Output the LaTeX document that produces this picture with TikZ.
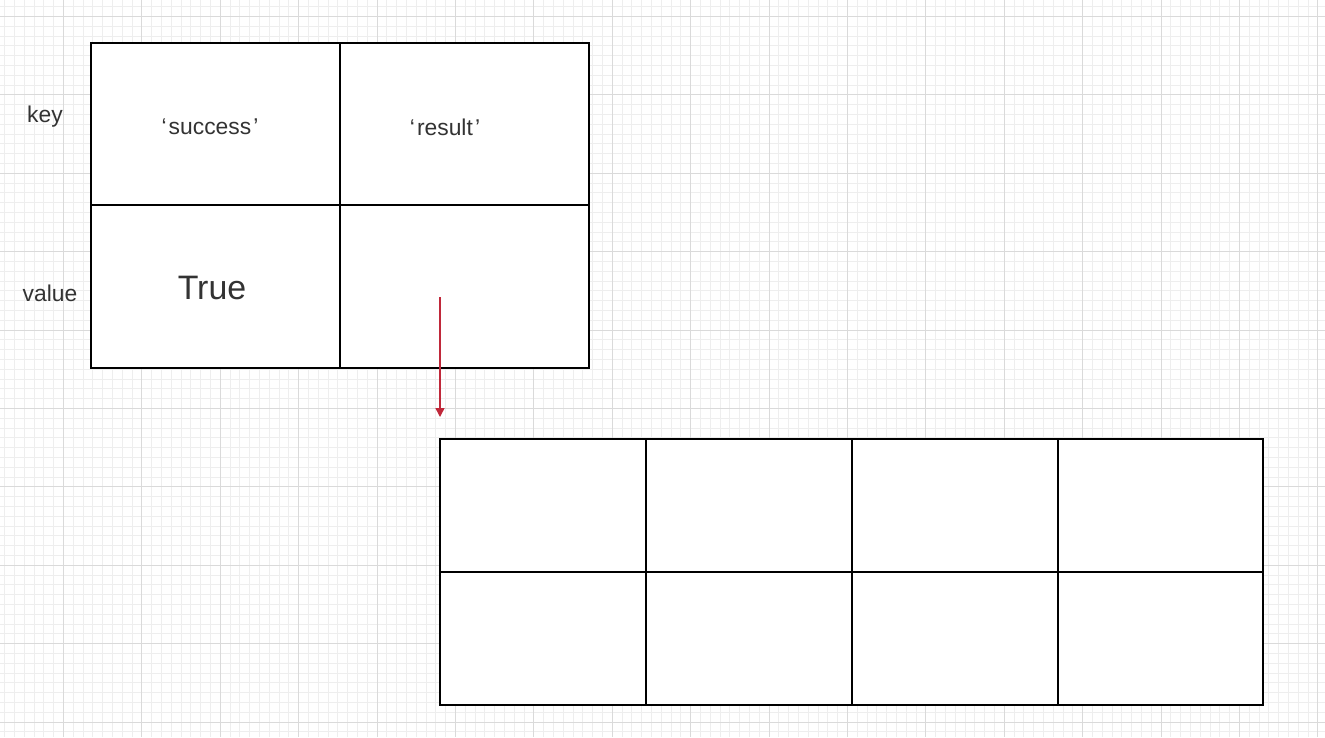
\documentclass[tikz,border=0pt]{standalone}
\usepackage{fontspec}
\setmainfont{Liberation Sans}
\usetikzlibrary{arrows.meta}

\definecolor{minorgrid}{HTML}{EEEEEE}
\definecolor{majorgrid}{HTML}{DADADA}
\definecolor{textgray}{HTML}{333333}
\definecolor{ptrred}{HTML}{C0283A}

\tikzset{
  minorline/.style={draw=minorgrid, line width=0.567pt},
  majorline/.style={draw=majorgrid, line width=0.567pt},
  cellline/.style={draw=black, line width=1.1pt, fill=white},
  keylabel/.style={text=textgray, font=\fontsize{13}{15}\selectfont, inner sep=0pt},
  bigval/.style={text=textgray, font=\fontsize{19.3}{22}\selectfont, inner sep=0pt},
  pointer/.style={draw=ptrred, line width=0.8pt, -{Triangle[length=5pt, width=5pt]}}
}

\begin{document}
\begin{tikzpicture}[x=0.02cm, y=-0.02cm]
    \useasboundingbox (0,0) rectangle (1325,737);
    \fill[white] (0,0) rectangle (1325,737);

    % Draw the background grid
    \foreach \i in {0,...,135} \draw[minorline] ({round(4.2+9.8*\i)+0.5},0) -- ++(0,737);
    \foreach \i in {0,...,74} \draw[minorline] (0,{round(6.2+9.8*\i)+0.5}) -- ++(1325,0);
    \foreach \i in {0,...,16} \draw[majorline] ({round(63+78.4*\i)+0.5},0) -- ++(0,737);
    \foreach \i in {0,...,9} \draw[majorline] (0,{round(16+78.4*\i)+0.5}) -- ++(1325,0);

    % Draw the dict table
    \draw[cellline] (91,43) rectangle (589,368);
    \draw[cellline] (340,43) -- (340,368);
    \draw[cellline] (91,205) -- (589,205);

    % Draw the list table
    \draw[cellline] (440,439) rectangle (1263,705);
    \foreach \x in {646,852,1058} \draw[cellline] (\x,439) -- (\x,705);
    \draw[cellline] (440,572) -- (1263,572);

    % Label the rows
    \node[keylabel] (keylbl) at (45,117) {key};
    \node[keylabel] (vallbl) at (50,293) {value};

    % Label the cells
    \node[keylabel] (succ) at (210,127) {‘\kern1.2pt success\kern1.2pt’};
    \node[keylabel] (res) at (445,127) {‘\kern1.2pt result\kern1.2pt’};
    \node[bigval] (true) at (212,288) {True};

    % Pointer to the list
    \coordinate (ref) at (440,297);
    \coordinate (tgt) at (440,417);
    \draw[pointer] (ref) -- (tgt);
  \end{tikzpicture}
\end{document}
